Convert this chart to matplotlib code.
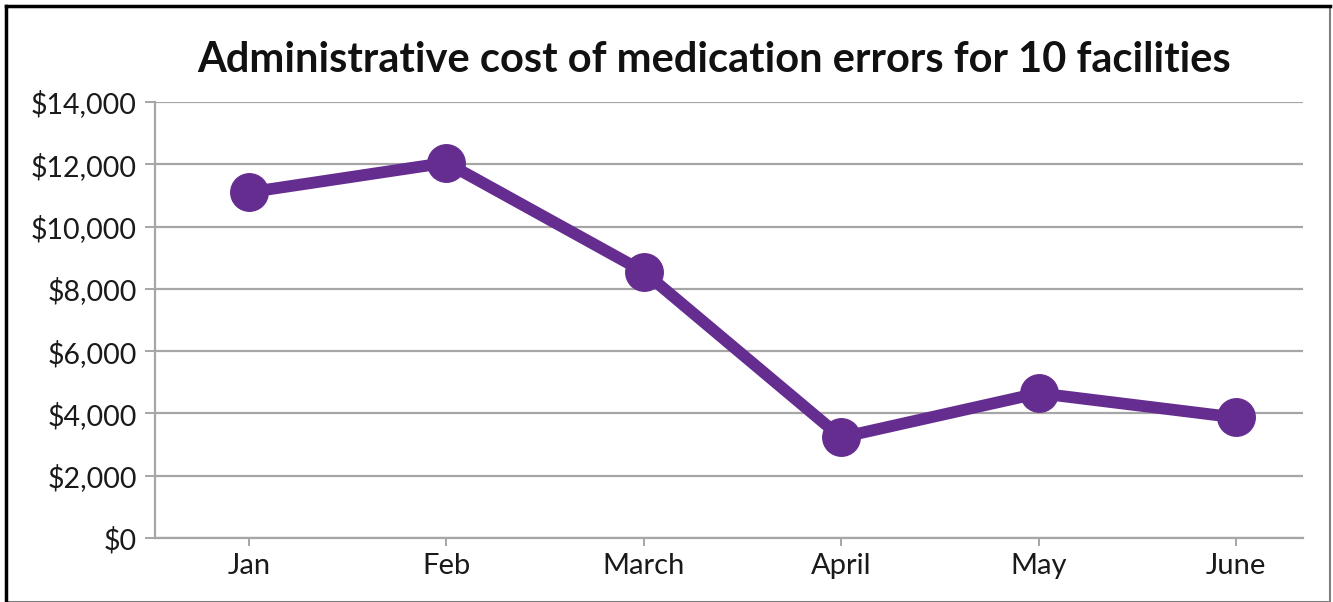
import matplotlib.pyplot as plt
from matplotlib.patches import Rectangle
from matplotlib.ticker import FuncFormatter

# monthly administrative cost (USD)
months = ["Jan", "Feb", "March", "April", "May", "June"]
costs = [11100, 12050, 8550, 3230, 4650, 3870]
y_ticks = [0, 2000, 4000, 6000, 8000, 10000, 12000, 14000]

LINE_COLOR = "#662D91"
GRID_COLOR = "#A6A6A6"

plt.rcParams["font.family"] = ["Lato", "DejaVu Sans"]

fig = plt.figure(figsize=(13.33, 6.02), dpi=100)
ax = fig.add_axes([0.1163, 0.1063, 0.8612, 0.7243])

x = list(range(len(months)))
ax.plot(x, costs, color=LINE_COLOR, linewidth=8.5, marker="o",
        markersize=27, solid_capstyle="round", zorder=3)

ax.set_ylim(0, 14000)
ax.set_yticks(y_ticks)
ax.yaxis.set_major_formatter(FuncFormatter(lambda v, _: f"${v:,.0f}"))
ax.set_xticks(x)
ax.set_xticklabels(months)
ax.set_xlim(-0.476, 5.34)

ax.grid(axis="y", color=GRID_COLOR, linewidth=1.6)
ax.set_axisbelow(True)
for side in ("top", "right"):
    ax.spines[side].set_visible(False)
for side in ("left", "bottom"):
    ax.spines[side].set_color(GRID_COLOR)
    ax.spines[side].set_linewidth(1.6)

ax.tick_params(axis="y", length=7, width=1.4, color=GRID_COLOR, pad=6,
               labelsize=20.5, labelcolor="#1a1a1a")
ax.tick_params(axis="x", length=6, width=1.4, color=GRID_COLOR, pad=5,
               labelsize=21, labelcolor="#1a1a1a")

fig.text(0.5357, 0.900, "Administrative cost of medication errors for 10 facilities",
         ha="center", va="center", fontsize=30, fontweight="bold", color="#111111")

# frame around the chart
fig.patches.append(Rectangle((0.0045, 0.0), 0.9935, 0.988, transform=fig.transFigure,
                             fill=False, edgecolor="#7f7f7f", linewidth=1.5))
fig.lines.append(plt.Line2D([0.0045, 0.0045], [0.0, 0.99], transform=fig.transFigure,
                            color="black", linewidth=2.5))
fig.lines.append(plt.Line2D([0.0045, 0.998], [0.99, 0.99], transform=fig.transFigure,
                            color="black", linewidth=2.5))

fig.savefig("out.png", dpi=100)
